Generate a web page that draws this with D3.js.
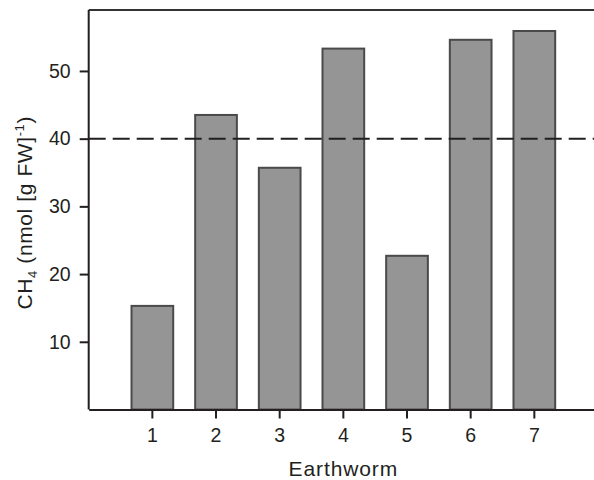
<!DOCTYPE html>
<html>
<head>
<meta charset="utf-8">
<script src="https://cdn.jsdelivr.net/npm/d3@7"></script>
<style>
  body { margin: 0; background: #fff; }
  text { font-family: "Liberation Sans", Arial, sans-serif; fill: #231f20; }
</style>
</head>
<body>
<svg id="canvas" width="594" height="480"></svg>
<script>
// data
var worms = ["1", "2", "3", "4", "5", "6", "7"];
var ch4 = [15.3, 43.5, 35.7, 53.3, 22.7, 54.6, 55.9];
var yTicks = [10, 20, 30, 40, 50];
var threshold = 40;

var svg = d3.select('#canvas');

// plot frame
var pLeft = 88.7, pRight = 598, pTop = 10, pBottom = 409.5;

var x = d3.scaleBand().domain(worms).range([pLeft, pRight]).paddingInner(0.345).paddingOuter(0.6725);
var y = d3.scaleLinear().domain([0, 59]).range([pBottom, pTop]);

// bars
svg.append('g').selectAll('rect')
  .data(worms)
  .enter().append('rect')
  .attr('x', d => x(d))
  .attr('width', x.bandwidth())
  .attr('y', (d, i) => y(ch4[i]))
  .attr('height', (d, i) => y(0) - y(ch4[i]))
  .style('fill', '#959595')
  .style('stroke', '#4a4a4a')
  .style('stroke-width', 2);

// dashed reference line
svg.append('line')
  .attr('x1', pLeft).attr('x2', pRight)
  .attr('y1', y(threshold)).attr('y2', y(threshold))
  .style('stroke', '#231f20')
  .style('stroke-width', 2)
  .style('stroke-dasharray', '17,7');

// frame lines (top + right)
svg.append('path')
  .attr('d', 'M' + pLeft + ',' + pTop + 'H' + pRight + 'V' + pBottom)
  .style('fill', 'none')
  .style('stroke', '#333')
  .style('stroke-width', 2);

// axes
var yAxis = svg.append('g')
  .attr('transform', 'translate(' + pLeft + ',0)')
  .call(d3.axisLeft(y).tickValues(yTicks).tickSize(9).tickPadding(9).tickSizeOuter(0));

var xAxis = svg.append('g')
  .attr('transform', 'translate(0,' + pBottom + ')')
  .call(d3.axisBottom(x).tickSize(9).tickPadding(10).tickSizeOuter(0));

[yAxis, xAxis].forEach(function(a){
  a.attr('font-size', null).attr('font-family', null);
  a.select('.domain').style('stroke', '#231f20').style('stroke-width', 2);
  a.selectAll('.tick line').style('stroke', '#231f20').style('stroke-width', 2);
  a.selectAll('.tick text').style('font-size', '19.5px').style('fill', '#231f20');
});
// y axis domain only spans the plot
yAxis.select('.domain').attr('d', 'M0,' + pTop + 'V' + pBottom);

// axis titles
svg.append('text')
  .attr('x', (pLeft + 594) / 2 + 2)
  .attr('y', 476)
  .attr('text-anchor', 'middle')
  .style('font-size', '21px')
  .style('letter-spacing', '0.9px')
  .text('Earthworm');

var yl = svg.append('text')
  .attr('transform', 'translate(32,' + ((pTop + pBottom) / 2 + 3) + ') rotate(-90)')
  .attr('text-anchor', 'middle')
  .style('font-size', '21px')
  .style('letter-spacing', '0.6px');
yl.append('tspan').text('CH');
yl.append('tspan').attr('dy', 5).style('font-size', '13px').text('4');
yl.append('tspan').attr('dy', -5).text(' (nmol [g FW]');
yl.append('tspan').attr('dy', -8).style('font-size', '13px').text('-1');
yl.append('tspan').attr('dy', 8).text(')');
</script>
</body>
</html>
